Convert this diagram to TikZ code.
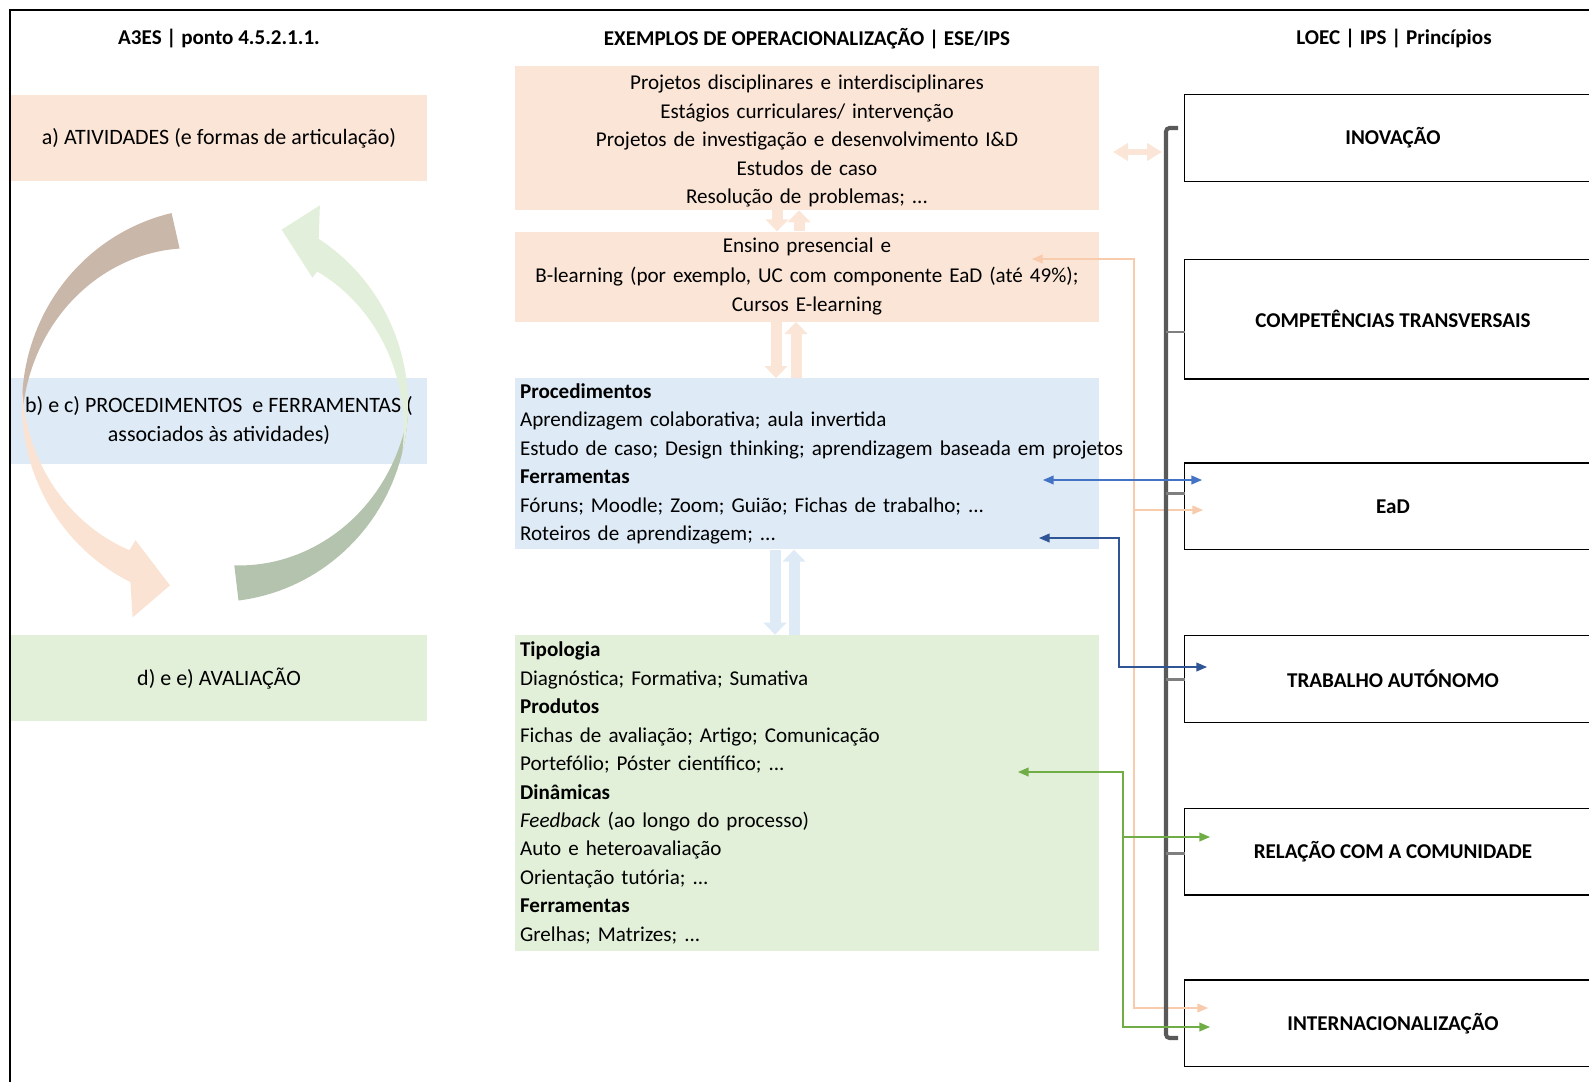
\documentclass[tikz,border=0pt]{standalone}
\usepackage{fontspec}
\setmainfont{Carlito}
\usepackage{tikz}
\usetikzlibrary{positioning}
\usetikzlibrary{arrows.meta}
\definecolor{peachfill}{HTML}{FBE5D6}
\definecolor{bluefill}{HTML}{DEEBF7}
\definecolor{greenfill}{HTML}{E2F0D9}
\definecolor{brownarc}{HTML}{C9B7AA}
\definecolor{peacharc}{HTML}{FAE3D3}
\definecolor{sagearc}{HTML}{B4C3AD}
\definecolor{lgreenarc}{HTML}{E2EFDA}
\definecolor{peachlink}{HTML}{F8CBAD}
\definecolor{bluelink}{HTML}{4472C4}
\definecolor{navylink}{HTML}{2F5597}
\definecolor{greenlink}{HTML}{70AD47}
\definecolor{bracketgray}{HTML}{595959}
\definecolor{tickgray}{HTML}{7F7F7F}
\tikzset{
    hdr/.style={
           font=\bfseries\fontsize{12}{14}\selectfont,
           inner sep=0pt,
           },
    leftbox/.style={
           rectangle,
           fill=#1,
           minimum width=8.34cm,
           minimum height=1.72cm,
           inner sep=0pt,
           align=center,
           font=\fontsize{12.5}{16.8}\selectfont,
           },
    midbox/.style={
           rectangle,
           fill=#1,
           text width=11.48cm,
           inner xsep=0.1cm,
           inner ysep=0pt,
           font=\fontsize{12}{16.2}\selectfont,
           },
    loecbox/.style={
           rectangle,
           minimum width=8.32cm,
           minimum height=1.72cm,
           inner sep=0pt,
           font=\bfseries\fontsize{12}{14}\selectfont,
           },
    loecline/.style={draw=black, line width=0.8pt},
    blockarrow/.style={
           draw=#1,
           line width=0.22cm,
           -{Triangle[length=0.24cm,width=0.45cm]},
           },
    link/.style={line width=0.7pt},
    bracket/.style={draw=bracketgray, line width=2.3pt, rounded corners=2pt},
    tick/.style={draw=tickgray, line width=1.7pt},
}

\begin{document}
\begin{tikzpicture}[x=0.02cm, y=-0.02cm, >={Triangle[length=6pt,width=5pt]},
    declare function={cx(\p,\q)=215+193*\q*cos(\p); cy(\p,\q)=405+197*\q*sin(\p);}]
    \useasboundingbox (0,0) rectangle (1589,1082);
    \clip (0,0) rectangle (1589,1082);
    \draw[line width=0.9pt] (10,1082) -- (10,10) -- (1589,10);

    \node[hdr] (h_a3es) at (219,39) {A3ES | ponto 4.5.2.1.1.};
    \node[hdr] (h_ese)  at (807,39) {EXEMPLOS DE OPERACIONALIZAÇÃO | ESE/IPS};
    \node[hdr] (h_loec) at (1394,39) {LOEC | IPS | Princípios};

    \node[leftbox=peachfill] (l_a) at (219,138) {a) ATIVIDADES (e formas de articulação)};
    \node[leftbox=bluefill] (l_bc) [below=3.92cm of l_a] {b) e c) PROCEDIMENTOS\ \ e FERRAMENTAS (\\associados às atividades)};
    \node[leftbox=greenfill] (l_de) [below=3.42cm of l_bc] {d) e e) AVALIAÇÃO};

    \fill[brownarc] plot[domain=257:177, samples=40] ({cx(\x,1)},{cy(\x,1)})
        -- plot[domain=177:257, samples=40] ({cx(\x,1-0.185*(\x-177)/80)},{cy(\x,1-0.185*(\x-177)/80)}) -- cycle;
    \fill[peacharc] plot[domain=184:121, samples=40] ({cx(\x,1-0.14*(184-\x)/63)},{cy(\x,1-0.14*(184-\x)/63)})
        -- ({cx(121,0.80)},{cy(121,0.80)}) -- ({cx(104.3,0.945)},{cy(104.3,0.945)})
        -- ({cx(111.6,1.16)},{cy(111.6,1.16)}) -- ({cx(116,1)},{cy(116,1)})
        -- plot[domain=116:184, samples=40] ({cx(\x,1)},{cy(\x,1)}) -- cycle;
    \fill[sagearc] plot[domain=83:3, samples=40] ({cx(\x,1)},{cy(\x,1)})
        -- plot[domain=3:83, samples=40] ({cx(\x,1-0.18*(\x-3)/80)},{cy(\x,1-0.18*(\x-3)/80)}) -- cycle;
    \fill[lgreenarc] plot[domain=14:-52, samples=40] ({cx(\x,1-0.14*(14-\x)/66)},{cy(\x,1-0.14*(14-\x)/66)})
        -- ({cx(-52,0.82)},{cy(-52,0.82)}) -- ({cx(-68.8,0.955)},{cy(-68.8,0.955)})
        -- ({cx(-61.8,1.15)},{cy(-61.8,1.15)}) -- ({cx(-57.5,1)},{cy(-57.5,1)})
        -- plot[domain=-57.5:14, samples=40] ({cx(\x,1)},{cy(\x,1)}) -- cycle;

    \node[midbox=peachfill, align=center, minimum height=2.88cm] (m_act) at (807,138)
        {\rule{0pt}{12pt}Projetos disciplinares e interdisciplinares\\
         Estágios curriculares/ intervenção\\
         Projetos de investigação e desenvolvimento I\&D\\
         Estudos de caso\\
         Resolução de problemas; ...};
    \node[midbox=peachfill, align=center, minimum height=1.8cm, font=\fontsize{12}{16.8}\selectfont] (m_ens) [below=0.42cm of m_act]
        {Ensino presencial e\\
         B-learning (por exemplo, UC com componente EaD (até 49\%);\\
         Cursos E-learning};
    \node[midbox=bluefill, align=left, minimum height=3.42cm] (m_proc) [below=1.12cm of m_ens]
        {\textbf{Procedimentos}\\
         Aprendizagem colaborativa; aula invertida\\
         \mbox{Estudo de caso; Design thinking; aprendizagem baseada em projetos}\\
         \textbf{Ferramentas}\\
         Fóruns; Moodle; Zoom; Guião; Fichas de trabalho; ...\\
         Roteiros de aprendizagem; ...};
    \node[midbox=greenfill, align=left, minimum height=6.32cm] (m_aval) [below=1.7cm of m_proc]
        {\textbf{Tipologia}\\
         Diagnóstica; Formativa; Sumativa\\
         \textbf{Produtos}\\
         Fichas de avaliação; Artigo; Comunicação\\
         Portefólio; Póster científico; ...\\
         \textbf{Dinâmicas}\\
         \textit{Feedback} (ao longo do processo)\\
         Auto e heteroavaliação\\
         Orientação tutória; ...\\
         \textbf{Ferramentas}\\
         Grelhas; Matrizes; ...};

    \draw[blockarrow=peachfill] (m_act.south -| 777,0) -- (m_ens.north -| 777,0);
    \draw[blockarrow=peachfill] (m_ens.north -| 799,0) -- (m_act.south -| 799,0);
    \draw[blockarrow=peachfill] (m_ens.south -| 776,0) -- (m_proc.north -| 776,0);
    \draw[blockarrow=peachfill] (m_proc.north -| 796,0) -- (m_ens.south -| 796,0);
    \draw[blockarrow=bluefill] (m_proc.south -| 775,0) -- (m_aval.north -| 775,0);
    \draw[blockarrow=bluefill] (m_aval.north -| 794,0) -- (m_proc.south -| 794,0);

    \node[loecbox] (inov) at (1393,138) {INOVAÇÃO};
    \node[loecbox, minimum height=2.38cm] (comp) [below=1.56cm of inov] {COMPETÊNCIAS TRANSVERSAIS};
    \node[loecbox] (ead) [below=1.68cm of comp] {EaD};
    \node[loecbox] (trab) [below=1.72cm of ead] {TRABALHO AUTÓNOMO};
    \node[loecbox] (rel) [below=1.72cm of trab] {RELAÇÃO COM A COMUNIDADE};
    \node[loecbox] (intl) [below=1.7cm of rel] {INTERNACIONALIZAÇÃO};
    \foreach \n in {inov,comp,ead,trab,rel,intl}
        \draw[loecline] (\n.north east) -- (\n.north west) -- (\n.south west) -- (\n.south east);

    \coordinate (act_l) at (1113,152);
    \coordinate (act_r) at (1162,152);
    \draw[draw=peachfill, line width=0.12cm, {Triangle[length=0.3cm,width=0.34cm]}-{Triangle[length=0.3cm,width=0.34cm]}] (act_l) -- (act_r);

    \coordinate (p_in) at (1032,259);
    \coordinate (p_bend) at (1134,259);
    \coordinate (p_ead) at (1203,510);
    \coordinate (p_intl) at (1208,1008);
    \draw[link, peachlink, <->] (p_in) -- (p_bend) |- (p_intl);
    \draw[link, peachlink, ->] (p_bend |- p_ead) -- (p_ead);

    \coordinate (br_top) at (1166,128);
    \coordinate (br_bot) at (1166,1038);
    \draw[bracket] (br_top) ++(12,0) -- (br_top) -- (br_bot) -- ++(12,0);
    \foreach \y/\n in {332/comp,493/ead,679/trab,853/rel}
        \draw[tick] (br_top |- 0,\y) -- (\n.west |- 0,\y);

    \coordinate (b_l) at (1043,480);
    \coordinate (b_r) at (1202,480);
    \draw[link, bluelink, <->] (b_l) -- (b_r);

    \coordinate (n_l) at (1039,538);
    \coordinate (n_bend) at (1119,538);
    \coordinate (n_r) at (1207,667);
    \draw[link, navylink, <->] (n_l) -- (n_bend) |- (n_r);

    \coordinate (g_l) at (1018,772);
    \coordinate (g_bend) at (1123,772);
    \coordinate (g_rel) at (1210,837);
    \coordinate (g_intl) at (1210,1027);
    \draw[link, greenlink, <->] (g_l) -- (g_bend) |- (g_intl);
    \draw[link, greenlink, ->] (g_bend |- g_rel) -- (g_rel);
\end{tikzpicture}
\end{document}
